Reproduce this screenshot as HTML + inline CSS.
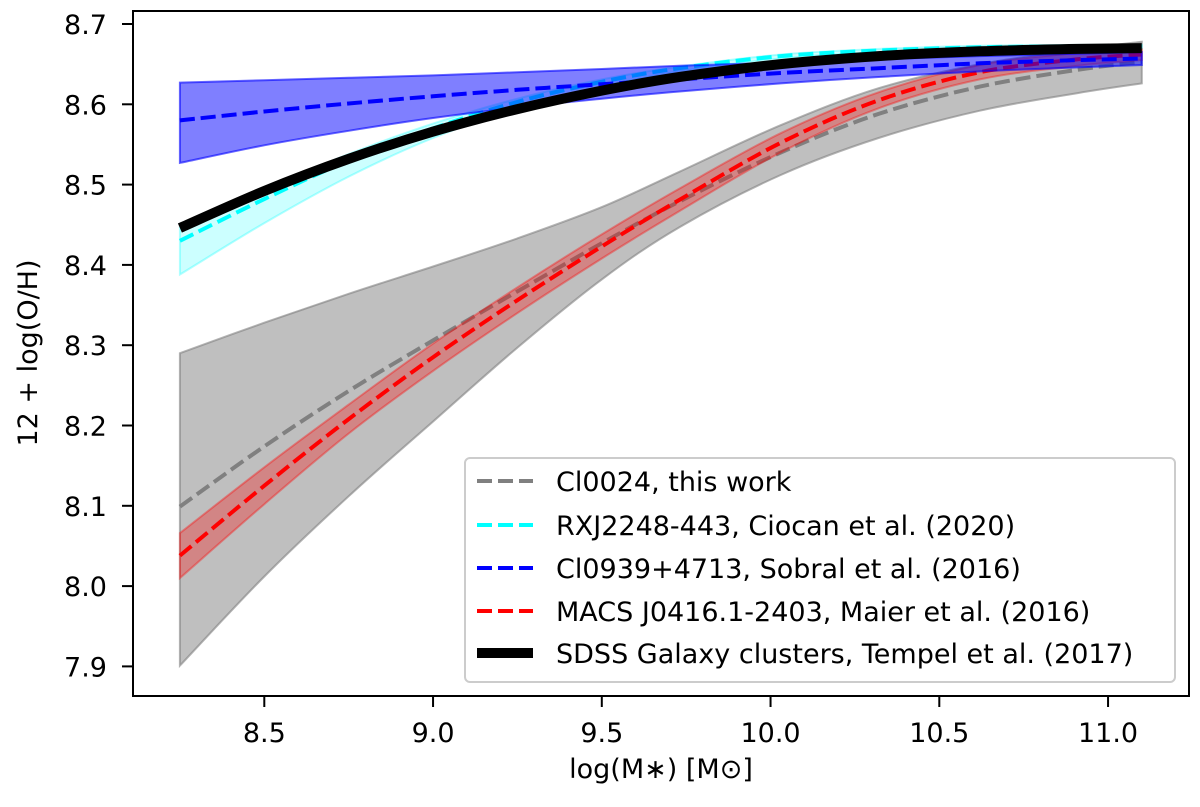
<!DOCTYPE html>
<html><head><meta charset="utf-8"><style>
html,body{margin:0;padding:0;background:#fff}
svg{display:block;font-family:"DejaVu Sans","Liberation Sans",sans-serif}
</style></head><body>
<svg id="chart" width="1200" height="807" xmlns="http://www.w3.org/2000/svg"></svg>
<script>
const masses=[8.25,8.5,8.75,9.0,9.25,9.5,9.73,10.03,10.32,10.62,10.91,11.1];
const sdss=[8.446,8.492,8.532,8.566,8.594,8.617,8.634,8.650,8.660,8.666,8.669,8.670];
const rxj=[8.430,8.482,8.530,8.570,8.603,8.628,8.645,8.660,8.667,8.671,8.672,8.672];
const rxjLo=[8.388,8.452,8.510,8.558,8.595,8.622,8.641,8.657,8.665,8.669,8.670,8.670];
const rxjHi=[8.447,8.494,8.538,8.576,8.607,8.631,8.647,8.662,8.669,8.673,8.674,8.674];
const cl0939=[8.580,8.591,8.601,8.610,8.618,8.625,8.631,8.639,8.645,8.651,8.655,8.657];
const cl0939Lo=[8.527,8.549,8.567,8.583,8.596,8.607,8.616,8.626,8.634,8.641,8.646,8.649];
const cl0939Hi=[8.627,8.630,8.633,8.636,8.640,8.644,8.648,8.652,8.656,8.660,8.663,8.665];
const cl0024=[8.099,8.174,8.243,8.306,8.367,8.427,8.479,8.540,8.588,8.622,8.643,8.653];
const cl0024Lo=[7.901,8.012,8.112,8.205,8.297,8.382,8.447,8.512,8.558,8.592,8.614,8.626];
const cl0024Hi=[8.290,8.328,8.364,8.398,8.433,8.472,8.516,8.574,8.620,8.650,8.668,8.678];
const macs=[8.038,8.125,8.208,8.285,8.356,8.423,8.481,8.552,8.605,8.640,8.656,8.662];
const macsLo=[8.010,8.102,8.190,8.268,8.340,8.408,8.467,8.540,8.595,8.631,8.648,8.655];
const macsHi=[8.066,8.148,8.226,8.302,8.372,8.438,8.495,8.564,8.615,8.649,8.664,8.669];
const xTicks=[8.5,9.0,9.5,10.0,10.5,11.0];
const yTicks=[7.9,8.0,8.1,8.2,8.3,8.4,8.5,8.6,8.7];

const L=133,T=11,R=1189,B=696;
const X=v=>264.3+(v-8.5)*337.5;
const Y=v=>24+(8.7-v)*803;
const NS="http://www.w3.org/2000/svg";
const svg=document.getElementById('chart');
function mk(tag,attrs,parent){const e=document.createElementNS(NS,tag);for(const k in attrs)e.setAttribute(k,attrs[k]);(parent||svg).appendChild(e);return e;}
function pts(ys){return masses.map((m,i)=>[X(m),Y(ys[i])]);}
function smooth(p,start){
  let d=(start?'M':'L')+p[0][0].toFixed(1)+','+p[0][1].toFixed(1);
  for(let i=0;i<p.length-1;i++){
    const p0=p[i-1]||p[i],p1=p[i],p2=p[i+1],p3=p[i+2]||p[i+1];
    const c1=[p1[0]+(p2[0]-p0[0])/6,p1[1]+(p2[1]-p0[1])/6];
    const c2=[p2[0]-(p3[0]-p1[0])/6,p2[1]-(p3[1]-p1[1])/6];
    d+=' C'+c1[0].toFixed(1)+','+c1[1].toFixed(1)+' '+c2[0].toFixed(1)+','+c2[1].toFixed(1)+' '+p2[0].toFixed(1)+','+p2[1].toFixed(1);
  }
  return d;
}
function linePath(ys){return smooth(pts(ys),true);}
function bandPath(lo,hi){return smooth(pts(hi),true)+' '+smooth(pts(lo).reverse(),false)+' Z';}

let e;
e=mk('path',{d:bandPath(cl0024Lo,cl0024Hi),fill:'rgba(128,128,128,0.5)',stroke:'rgba(128,128,128,0.6)','stroke-width':2});

e=mk('path',{d:linePath(cl0024),fill:'none',stroke:'#808080','stroke-width':4,'stroke-dasharray':'15,6'});

e=mk('path',{d:bandPath(macsLo,macsHi),fill:'rgba(255,0,0,0.3)',stroke:'rgba(255,0,0,0.35)','stroke-width':2});

e=mk('path',{d:linePath(macs),fill:'none',stroke:'#ff0000','stroke-width':4,'stroke-dasharray':'15,6'});

e=mk('path',{d:bandPath(rxjLo,rxjHi),fill:'rgba(0,255,255,0.2)',stroke:'rgba(0,255,255,0.3)','stroke-width':2});

e=mk('path',{d:linePath(rxj),fill:'none',stroke:'#00ffff','stroke-width':4,'stroke-dasharray':'15,6'});

e=mk('path',{d:bandPath(cl0939Lo,cl0939Hi),fill:'rgba(0,0,255,0.5)',stroke:'rgba(0,0,255,0.6)','stroke-width':2});

e=mk('path',{d:linePath(cl0939),fill:'none',stroke:'#0000ff','stroke-width':4,'stroke-dasharray':'15,6'});

e=mk('path',{d:linePath(sdss),fill:'none',stroke:'#000','stroke-width':10});


e=mk('rect',{x:L,y:T,width:R-L,height:B-T,fill:'none',stroke:'#000','stroke-width':2});


xTicks.forEach(v=>{
  const t=mk('line',{x1:X(v),x2:X(v),y1:B,y2:B+11,stroke:'#000','stroke-width':2});
  
  const l=mk('text',{x:X(v),y:742,'text-anchor':'middle','font-size':27,fill:'#000'});
  l.textContent=v.toFixed(1);
  
});
yTicks.forEach(v=>{
  const t=mk('line',{x1:L-11,x2:L,y1:Y(v),y2:Y(v),stroke:'#000','stroke-width':2});
  
  const l=mk('text',{x:107,y:Y(v)+10,'text-anchor':'end','font-size':27,fill:'#000'});
  l.textContent=v.toFixed(1);
  
});
e=mk('text',{x:661,y:778,'text-anchor':'middle','font-size':27,fill:'#000'});
e.textContent='log(M\u2217) [M\u2299]';

e=mk('text',{x:0,y:0,'text-anchor':'middle','font-size':27,fill:'#000',transform:'translate(37,353) rotate(-90)'});
e.textContent='12 + log(O/H)';


const lg=mk('g',{});

e=mk('rect',{x:465,y:458,width:710,height:224,rx:5,fill:'rgba(255,255,255,0.8)',stroke:'#ccc','stroke-width':2},lg);

const legNames=['Cl0024, this work','RXJ2248-443, Ciocan et al. (2020)','Cl0939+4713, Sobral et al. (2016)','MACS J0416.1-2403, Maier et al. (2016)','SDSS Galaxy clusters, Tempel et al. (2017)'];
const legColors=['#808080','#00ffff','#0000ff','#ff0000','#000'];
const legY=[481,525,568,611,653];
legNames.forEach((n,i)=>{
  const s=mk('line',{x1:477,x2:533,y1:legY[i],y2:legY[i],stroke:legColors[i],'stroke-width':i===4?10:4,'stroke-dasharray':i===4?'none':'15,6'},lg);
  
  const t=mk('text',{x:556,y:legY[i]+10,'font-size':27,fill:'#000'},lg);
  t.textContent=n;
  
});
</script>
</body></html>
